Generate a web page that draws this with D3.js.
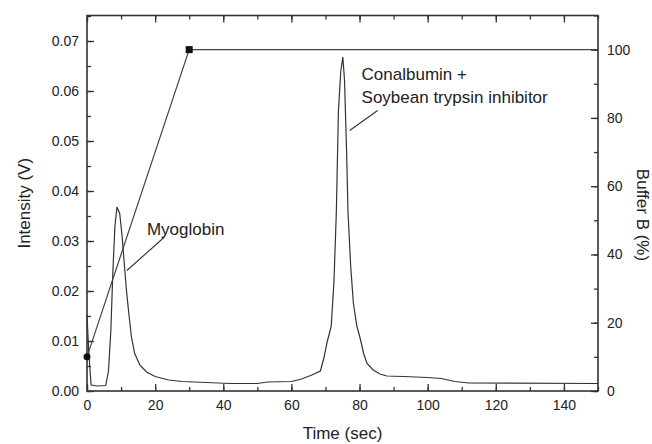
<!DOCTYPE html>
<html>
<head>
<meta charset="utf-8">
<script src="https://cdn.jsdelivr.net/npm/d3@7"></script>
<style>
  body { margin: 0; background: #fff; }
  svg { font-family: "Liberation Sans", Arial, sans-serif; }
  .tick text { fill: #222; font-size: 14px; }
  .tick line { stroke: #333; stroke-width: 1.3; }
  .domain { display: none; }
  .frame { fill: none; stroke: #333; stroke-width: 1.6; }
  .trace { fill: none; stroke: #333; stroke-width: 1.2; }
  .gradient { fill: none; stroke: #444; stroke-width: 1.2; }
  .pointer { fill: none; stroke: #333; stroke-width: 1.1; }
  .label, .title { fill: #222; font-size: 17px; }
</style>
</head>
<body>
<svg id="chart" width="652" height="444"></svg>
<script>
//
// data
var timeTicks = [0, 20, 40, 60, 80, 100, 120, 140],
    intensityTicks = [0, 0.01, 0.02, 0.03, 0.04, 0.05, 0.06, 0.07],
    bufferTicks = [0, 20, 40, 60, 80, 100];

// intensity trace: [time (sec), intensity (V)]
var intensity = [
  [0, 0.0152], [0.5, 0.008], [1.2, 0.0012], [3, 0.001], [5.5, 0.0011],
  [6.3, 0.004], [7, 0.012], [7.6, 0.024], [8.2, 0.033], [8.8, 0.0368],
  [9.6, 0.0355], [10.3, 0.031], [11, 0.025], [11.6, 0.02], [12.2, 0.016],
  [13, 0.011], [14, 0.0075], [15.5, 0.0052], [17.5, 0.0038], [20, 0.0029],
  [24, 0.0022], [28, 0.0019], [35, 0.0017], [42, 0.0015], [50, 0.0015],
  [53, 0.0018], [60, 0.0019], [63, 0.0024], [66, 0.0032], [68.5, 0.004],
  [69.5, 0.0065], [70.5, 0.0098], [71.7, 0.013], [72.5, 0.022], [73.2, 0.036],
  [73.8, 0.056], [74.5, 0.064], [75.1, 0.0668], [75.6, 0.062], [76.2, 0.048],
  [76.6, 0.036], [77.4, 0.025], [78.2, 0.0175], [79.2, 0.013], [80.2, 0.0105],
  [81.2, 0.0075], [82.2, 0.0055], [84, 0.0042], [86, 0.0034], [88, 0.003],
  [93, 0.0029], [100, 0.0027], [104, 0.0025], [108, 0.0019], [112, 0.0016],
  [150, 0.0015]
];

// buffer B gradient: [time (sec), %]
var buffer = [[0, 10], [30, 100], [150, 100]];

// peak labels, anchored in data units: text at [t, V], pointer from..to
var peakLabels = [
  { lines: ['Myoglobin'], at: [17.6, 0.0312], from: [22.6, 0.0307], to: [11.7, 0.0241] },
  { lines: ['Conalbumin +', 'Soybean trypsin inhibitor'], at: [80.6, 0.0623],
    from: [85.3, 0.0561], to: [77.1, 0.0521] }
];

var svg = d3.select('#chart'),
    plotL = 87, plotR = 598, plotT = 15.5, plotB = 391;

var x = d3.scaleLinear().domain([0, 150]).range([plotL, plotR]),
    y = d3.scaleLinear().domain([0, 0.075]).range([plotB, plotT + 0.5]),
    y2 = d3.scaleLinear().domain([0, 110]).range([plotB, plotT]);

var minor = function(scale, step) {
  var d = scale.domain();
  return d3.range(d[0], d[1] + step / 2, step);
};

//
// axes: ticks point inward on all four sides
svg.append('g')
  .attr('transform', 'translate(0,' + plotB + ')')
  .call(d3.axisBottom(x).tickValues(minor(x, 10)).tickSize(-4).tickFormat(''));
svg.append('g')
  .attr('transform', 'translate(0,' + plotB + ')')
  .call(d3.axisBottom(x).tickValues(timeTicks).tickSize(-7).tickPadding(9).tickFormat(d3.format('d')));
svg.append('g')
  .attr('transform', 'translate(0,' + plotT + ')')
  .call(d3.axisTop(x).tickValues(minor(x, 10)).tickSize(-4).tickFormat(''));
svg.append('g')
  .attr('transform', 'translate(0,' + plotT + ')')
  .call(d3.axisTop(x).tickValues(timeTicks).tickSize(-7).tickFormat(''));

svg.append('g')
  .attr('transform', 'translate(' + plotL + ',0)')
  .call(d3.axisLeft(y).tickValues(minor(y, 0.005)).tickSize(-4).tickFormat(''));
svg.append('g')
  .attr('transform', 'translate(' + plotL + ',0)')
  .call(d3.axisLeft(y).tickValues(intensityTicks).tickSize(-7).tickPadding(8).tickFormat(d3.format('.2f')));

svg.append('g')
  .attr('transform', 'translate(' + plotR + ',0)')
  .call(d3.axisRight(y2).tickValues(minor(y2, 10)).tickSize(-4).tickFormat(''));
svg.append('g')
  .attr('transform', 'translate(' + plotR + ',0)')
  .call(d3.axisRight(y2).tickValues(bufferTicks).tickSize(-7).tickPadding(9).tickFormat(d3.format('d')));

svg.append('rect').attr('class', 'frame')
  .attr('x', plotL).attr('y', plotT)
  .attr('width', plotR - plotL).attr('height', plotB - plotT);

//
// traces
svg.append('path').attr('class', 'trace')
  .attr('d', d3.line().x(function(d) { return x(d[0]); }).y(function(d) { return y(d[1]); })(intensity));

svg.append('path').attr('class', 'gradient')
  .attr('d', d3.line().x(function(d) { return x(d[0]); }).y(function(d) { return y2(d[1]); })(buffer));

svg.append('circle')
  .attr('cx', x(buffer[0][0])).attr('cy', y2(buffer[0][1]))
  .attr('r', 3.5).attr('fill', '#111');
svg.append('rect')
  .attr('x', x(buffer[1][0]) - 3.5).attr('y', y2(buffer[1][1]) - 3.5)
  .attr('width', 7).attr('height', 7).attr('fill', '#111');

//
// peak labels
peakLabels.forEach(function(p) {
  svg.append('line').attr('class', 'pointer')
    .attr('x1', x(p.from[0])).attr('y1', y(p.from[1]))
    .attr('x2', x(p.to[0])).attr('y2', y(p.to[1]));
  var t = svg.append('text').attr('class', 'label')
    .attr('x', x(p.at[0])).attr('y', y(p.at[1]));
  t.selectAll('tspan').data(p.lines).enter()
    .append('tspan')
      .attr('x', x(p.at[0]))
      .attr('dy', function(d, i) { return i ? 23 : 0; })
      .text(function(d) { return d; });
});

//
// axis titles
svg.append('text').attr('class', 'title')
  .attr('x', (plotL + plotR) / 2).attr('y', 439)
  .attr('text-anchor', 'middle').text('Time (sec)');
svg.append('text').attr('class', 'title')
  .attr('transform', 'translate(30,' + (plotT + plotB) / 2 + ') rotate(-90)')
  .attr('text-anchor', 'middle').text('Intensity (V)');
svg.append('text').attr('class', 'title')
  .attr('transform', 'translate(637,215) rotate(90)')
  .attr('text-anchor', 'middle').text('Buffer B (%)');
</script>
</body>
</html>
